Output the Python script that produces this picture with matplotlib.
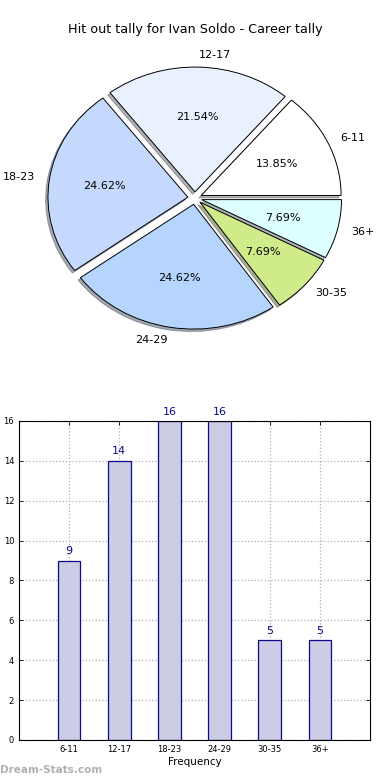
import matplotlib
matplotlib.use("Agg")
import matplotlib.pyplot as plt

title = "Hit out tally for Ivan Soldo - Career tally"
categories = ["6-11", "12-17", "18-23", "24-29", "30-35", "36+"]
values = [9, 14, 16, 16, 5, 5]
pie_colors = ["#ffffff", "#e9f1ff", "#c5d9ff", "#b5d5ff", "#d0eb8a", "#ddffff"]
explode = [0.05, 0.05, 0.05, 0.05, 0.05, 0.05]

fig = plt.figure(figsize=(3.9, 7.8), dpi=100)
fig.patch.set_facecolor("white")

# Pie chart
ax1 = fig.add_axes([0.051, 0.546, 0.897, 0.40])
wedges, texts, autotexts = ax1.pie(
    values, labels=categories, colors=pie_colors, explode=explode,
    autopct="%1.2f%%", shadow={"ox": -0.012, "oy": -0.014, "shade": 0.6},
    startangle=0,
    wedgeprops=dict(edgecolor="black", linewidth=0.7),
    textprops=dict(fontsize=8))
ax1.set_aspect("auto")
ax1.set_xlim(-1.25, 1.25)
ax1.set_ylim(-1.25, 1.25)
fig.text(0.5, 1 - 30 / 780, title, ha="center", va="center", fontsize=9.2)

# Bar chart
ax2 = fig.add_axes([0.0487, 0.0513, 0.90, 0.409])
x = list(range(len(categories)))
ax2.bar(x, values, width=0.45, color="#ccccE4", edgecolor="#0a0a8a",
        linewidth=0.9, zorder=2)
for xi, v in zip(x, values):
    ax2.text(xi, v + 0.22, str(v), ha="center", va="bottom", fontsize=8,
             color="#0a0a8a", zorder=3)
ax2.set_xlim(-1, 6)
ax2.set_ylim(0, 16)
ax2.set_xticks(x)
ax2.set_xticklabels(categories, fontsize=6)
ax2.set_yticks(range(0, 17, 2))
ax2.tick_params(axis="y", labelsize=6)
ax2.tick_params(direction="in", top=True, right=True, length=3, width=0.6)
ax2.grid(True, linestyle=":", color="#b0b0b0", linewidth=0.9, zorder=0)
ax2.set_axisbelow(True)
ax2.set_xlabel("Frequency", fontsize=7.5, labelpad=2)
ax2.set_ylabel("Stat Hit Outs", fontsize=7)
ax2.yaxis.set_label_coords(-0.06, 0.5)
for s in ax2.spines.values():
    s.set_linewidth(0.8)

fig.text(0.0, 1 - 770 / 780, "Dream-Stats.com", ha="left", va="center",
         fontsize=7.5, color="#b0b0b0", fontweight="bold")

fig.savefig("out.png", dpi=100)
